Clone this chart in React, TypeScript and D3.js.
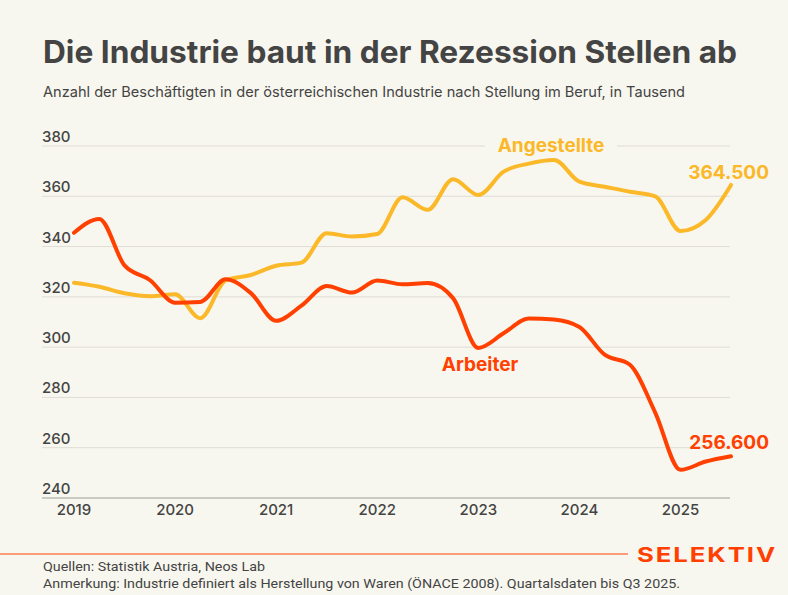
import React, { useEffect, useRef } from 'react';
import * as d3 from 'd3';

// Quartale Q1 2019 .. Q3 2025
const quarters = [
  '2019Q1', '2019Q2', '2019Q3', '2019Q4',
  '2020Q1', '2020Q2', '2020Q3', '2020Q4',
  '2021Q1', '2021Q2', '2021Q3', '2021Q4',
  '2022Q1', '2022Q2', '2022Q3', '2022Q4',
  '2023Q1', '2023Q2', '2023Q3', '2023Q4',
  '2024Q1', '2024Q2', '2024Q3', '2024Q4',
  '2025Q1', '2025Q2', '2025Q3',
];

// Beschäftigte in Tausend
const angestellte = [
  325.6, 324.0, 321.4, 320.2,
  321.0, 311.5, 326.5, 328.7,
  332.4, 333.6, 345.3, 344.0,
  345.0, 359.6, 354.6, 366.8,
  360.5, 369.8, 373.0, 374.4,
  365.8, 363.8, 361.8, 360.0,
  346.2, 350.6, 364.5,
];

const arbeiter = [
  345.5, 351.0, 332.5, 326.7,
  317.7, 318.0, 327.0, 321.5,
  310.5, 316.5, 324.3, 321.7,
  326.5, 325.0, 325.5, 319.5,
  299.7, 305.5, 311.4, 311.0,
  308.0, 297.0, 293.0, 274.0,
  251.2, 254.5, 256.6,
];

const yTicks = [240, 260, 280, 300, 320, 340, 360, 380];
const xTicks = [2019, 2020, 2021, 2022, 2023, 2024, 2025];

const W = 788;
const H = 595;
const BG = '#f8f7ef';
const RED = '#ff4000';
const YELLOW = '#fbb829';
const TEXT = '#444444';
const FONT = 'Inter, Lato, sans-serif';

const toYear = (q: string) => +q.slice(0, 4) + (+q.slice(5) - 1) / 4;

const App: React.FC = () => {
  const svgRef = useRef<SVGSVGElement>(null);

  useEffect(() => {
    document.body.style.margin = '0';
    if (!svgRef.current) return;
    const svg = d3.select(svgRef.current);
    svg.selectAll('*').remove();

    const x = d3.scaleLinear().domain([2019, 2025.5]).range([74, 731]);
    const y = d3.scaleLinear().domain([240, 380]).range([498, 146]);
    const gridLeft = 42;
    const gridRight = 730;

    svg.append('rect').attr('width', W).attr('height', H).attr('fill', BG);

    // Titel
    svg.append('text')
      .attr('x', 43).attr('y', 63)
      .attr('font-family', FONT)
      .attr('font-weight', 700)
      .attr('font-size', 31)
      .attr('fill', TEXT)
      .attr('textLength', 694)
      .attr('lengthAdjust', 'spacingAndGlyphs')
      .text('Die Industrie baut in der Rezession Stellen ab');

    svg.append('text')
      .attr('x', 43).attr('y', 97)
      .attr('font-family', FONT)
      .attr('font-size', 14.5)
      .attr('fill', TEXT)
      .attr('textLength', 642)
      .attr('lengthAdjust', 'spacingAndGlyphs')
      .text('Anzahl der Beschäftigten in der österreichischen Industrie nach Stellung im Beruf, in Tausend');

    // Gitter
    const grid = svg.append('g');
    grid.selectAll('line')
      .data(yTicks)
      .enter().append('line')
      .attr('x1', gridLeft).attr('x2', gridRight)
      .attr('y1', d => y(d)).attr('y2', d => y(d))
      .attr('stroke', d => (d === 240 ? '#bdbbb4' : '#dedcd5'))
      .attr('stroke-width', d => (d === 240 ? 1.5 : 1));

    grid.selectAll('text')
      .data(yTicks)
      .enter().append('text')
      .attr('x', gridLeft).attr('y', d => y(d) - 4)
      .attr('font-family', FONT)
      .attr('font-weight', 500)
      .attr('font-size', 15)
      .attr('fill', TEXT)
      .text(d => d);

    svg.append('g').selectAll('text')
      .data(xTicks)
      .enter().append('text')
      .attr('x', d => x(d)).attr('y', 515)
      .attr('text-anchor', 'middle')
      .attr('font-family', FONT)
      .attr('font-weight', 500)
      .attr('font-size', 15)
      .attr('fill', TEXT)
      .text(d => d);

    // Linien
    const line = d3.line<number>()
      .x((_, i) => x(toYear(quarters[i])))
      .y(d => y(d))
      .curve(d3.curveMonotoneX);

    svg.append('path')
      .datum(angestellte)
      .attr('d', line)
      .attr('fill', 'none')
      .attr('stroke', YELLOW)
      .attr('stroke-width', 4)
      .attr('stroke-linecap', 'round')
      .attr('stroke-linejoin', 'round');

    svg.append('path')
      .datum(arbeiter)
      .attr('d', line)
      .attr('fill', 'none')
      .attr('stroke', RED)
      .attr('stroke-width', 4)
      .attr('stroke-linecap', 'round')
      .attr('stroke-linejoin', 'round');

    // Beschriftungen
    const label = (txt: string, lx: number, ly: number, color: string, anchor: string, knockout = false) => {
      if (knockout) {
        svg.append('rect')
          .attr('x', lx - 66).attr('y', ly - 20)
          .attr('width', 132).attr('height', 26)
          .attr('fill', BG);
      }
      svg.append('text')
        .attr('x', lx).attr('y', ly)
        .attr('text-anchor', anchor)
        .attr('font-family', FONT)
        .attr('font-weight', 700)
        .attr('font-size', 19)
        .attr('fill', color)
        .text(txt);
    };

    label('Angestellte', 551, 152, YELLOW, 'middle', true);
    label('364.500', 769, 179, YELLOW, 'end');
    label('Arbeiter', 480, 371, RED, 'middle');
    label('256.600', 769, 449, RED, 'end');

    // Fußzeile
    svg.append('line')
      .attr('x1', 0).attr('x2', 628)
      .attr('y1', 554).attr('y2', 554)
      .attr('stroke', RED).attr('stroke-width', 1.2);

    svg.append('text')
      .attr('x', 637).attr('y', 562)
      .attr('font-family', FONT)
      .attr('font-weight', 700)
      .attr('font-size', 20)
      .attr('letter-spacing', 1.5)
      .attr('fill', RED)
      .attr('textLength', 140)
      .attr('lengthAdjust', 'spacingAndGlyphs')
      .text('SELEKTIV');

    svg.append('text')
      .attr('x', 43).attr('y', 571)
      .attr('font-family', '"Liberation Sans Narrow", Roboto, sans-serif')
      .attr('font-size', 13)
      .attr('fill', TEXT)
      .attr('textLength', 222)
      .attr('lengthAdjust', 'spacingAndGlyphs')
      .text('Quellen: Statistik Austria, Neos Lab');

    svg.append('text')
      .attr('x', 43).attr('y', 588)
      .attr('font-family', '"Liberation Sans Narrow", Roboto, sans-serif')
      .attr('font-size', 13)
      .attr('fill', TEXT)
      .attr('textLength', 637)
      .attr('lengthAdjust', 'spacingAndGlyphs')
      .text('Anmerkung: Industrie definiert als Herstellung von Waren (ÖNACE 2008). Quartalsdaten bis Q3 2025.');
  }, []);

  return (
    <div style={{ width: W, height: H }}>
      <svg ref={svgRef} width={W} height={H} />
    </div>
  );
};

export default App;
